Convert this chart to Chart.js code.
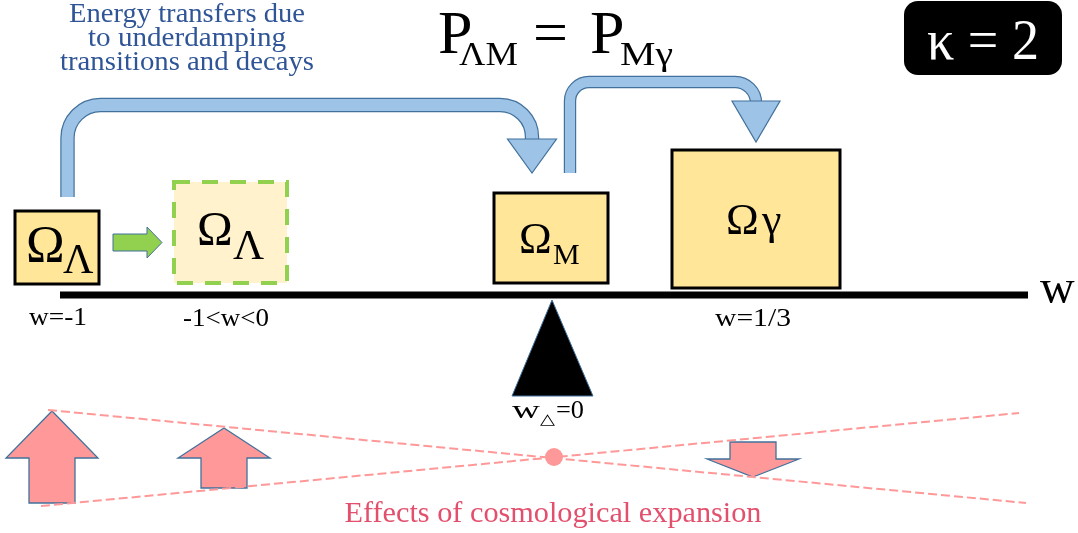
<!DOCTYPE html>
<html>
<head>
<meta charset="utf-8">
<script src="https://cdn.jsdelivr.net/npm/chart.js@4"></script>
<style>
  html, body { margin: 0; padding: 0; background: #fff; }
  canvas { display: block; }
</style>
</head>
<body>
<canvas id="diagram" width="1078" height="533"></canvas>
<script>
// ---- values (diagram units = reference pixels) ----
const axisX = [60, 1028];
const axisY = [295, 295];

// dashed guides of the expansion "seesaw"
const guideAX = [48, 1026];
const guideAY = [410, 503];
const guideBX = [41, 1019];
const guideBY = [506, 413];
const pivotX = [554];
const pivotY = [457];

// pink expansion arrows (tip, head base, tail)
const expTipX = [52, 224, 753];
const expTipY = [411, 428, 477];
const expHeadY = [458, 458, 459];
const expTailY = [503, 488, 442];

// energy components
const boxLeft = [15, 174, 494, 672];
const boxRight = [99, 287, 608, 840];
const boxTop = [211, 182, 193, 150];
const boxBottom = [284, 283, 283, 288];
const boxSymbol = ['Ω', 'Ω', 'Ω', 'Ω'];
const boxSub = ['Λ', 'Λ', 'M', 'γ'];
const symbolX = [26, 197, 519, 726];
const symbolBase = [262, 245, 253, 234];
const subX = [63, 233, 553, 762];
const subBase = [273, 259, 264, 234];

// equation-of-state labels under the axis
const wLabels = ['w=-1', '-1<w<0', 'w=1/3'];
const wLabelX = [58, 226, 753];
const wLabelBase = [325, 326, 326];

// energy-transfer arrows (centre line) and their heads
const transferX = [[67.5, 67.5, 532, 532], [570, 570, 756, 756]];
const transferY = [[197, 105, 105, 140], [173, 82, 82, 102]];
const transferHeadY = [139, 101];
const transferTipY = [173, 142];

const noteLines = ['Energy transfers due', 'to underdamping', 'transitions and decays'];
const noteBase = [22, 46, 70];

const formulaParts = ['P', 'ΛM', '=', 'P', 'Mγ'];
const formulaX = [438, 459, 533, 590, 620];
const formulaBase = [53, 65, 53, 53, 65];

const SERIF = '"Liberation Serif", "DejaVu Serif", serif';

function pts(xs, ys) { return xs.map((v, i) => ({ x: v, y: ys[i] })); }

function text(ctx, s, x, y, size, color, align, fitW, family) {
    ctx.save();
    ctx.font = size + 'px ' + (family || SERIF);
    ctx.fillStyle = color;
    ctx.textBaseline = 'alphabetic';
    ctx.textAlign = align || 'left';
    const sx = fitW ? fitW / ctx.measureText(s).width : 1;
    ctx.translate(x, y);
    ctx.scale(sx, 1);
    ctx.fillText(s, 0, 0);
    ctx.restore();
}

function polygon(ctx, list, fill, stroke, lw) {
    ctx.beginPath();
    list.forEach((p, i) => i ? ctx.lineTo(p[0], p[1]) : ctx.moveTo(p[0], p[1]));
    ctx.closePath();
    ctx.fillStyle = fill;
    ctx.fill();
    if (stroke) { ctx.lineWidth = lw || 1.2; ctx.strokeStyle = stroke; ctx.stroke(); }
}

const diagramPlugin = {
    id: 'diagramShapes',
    beforeDatasetsDraw(chart) {
        const { ctx, scales: { x, y } } = chart;
        const X = v => x.getPixelForValue(v), Y = v => y.getPixelForValue(v);
        // pink arrows sit under the dashed guides
        expTipX.forEach((tx, i) => {
            const head = 46, shaft = 23;
            polygon(ctx, [
                [X(tx), Y(expTipY[i])],
                [X(tx + head), Y(expHeadY[i])],
                [X(tx + shaft), Y(expHeadY[i])],
                [X(tx + shaft), Y(expTailY[i])],
                [X(tx - shaft), Y(expTailY[i])],
                [X(tx - shaft), Y(expHeadY[i])],
                [X(tx - head), Y(expHeadY[i])]
            ], '#ff9999', '#41719c', 1.3);
        });
    },
    afterDatasetsDraw(chart) {
        const { ctx, scales: { x, y } } = chart;
        const X = v => x.getPixelForValue(v), Y = v => y.getPixelForValue(v);
        ctx.save();

        // component boxes
        boxLeft.forEach((l, i) => {
            const bx = X(l), by = Y(boxTop[i]);
            const bw = X(boxRight[i]) - bx, bh = Y(boxBottom[i]) - by;
            if (i === 1) {
                ctx.fillStyle = '#fff2cc';
                ctx.fillRect(bx, by, bw, bh);
                ctx.setLineDash([16, 12]);
                ctx.lineWidth = 4;
                ctx.strokeStyle = '#92d050';
                ctx.strokeRect(bx, by, bw, bh);
                ctx.setLineDash([]);
            } else {
                ctx.fillStyle = '#ffe699';
                ctx.fillRect(bx, by, bw, bh);
                ctx.lineWidth = 3;
                ctx.strokeStyle = '#000';
                ctx.strokeRect(bx, by, bw, bh);
            }
        });
        const symSize = [52, 48, 44, 44];
        const subSize = [42, 43, 30, 44];
        boxSymbol.forEach((s, i) => {
            text(ctx, s, X(symbolX[i]), Y(symbolBase[i]), symSize[i], '#000');
            text(ctx, boxSub[i], X(subX[i]), Y(subBase[i]), subSize[i], '#000');
        });

        // green shift arrow
        polygon(ctx, [
            [X(113), Y(234)], [X(147), Y(234)], [X(147), Y(227)], [X(162), Y(242.5)],
            [X(147), Y(258)], [X(147), Y(251)], [X(113), Y(251)]
        ], '#92d050', '#41719c', 1);

        // blue transfer arrows
        const widths = [12, 10], radii = [[33, 32], [19, 21]], halfHead = [24.5, 24];
        transferX.forEach((xs, i) => {
            const ys = transferY[i];
            const path = () => {
                ctx.beginPath();
                ctx.moveTo(X(xs[0]), Y(ys[0]));
                ctx.arcTo(X(xs[1]), Y(ys[1]), X(xs[2]), Y(ys[2]), radii[i][0]);
                ctx.arcTo(X(xs[2]), Y(ys[2]), X(xs[3]), Y(ys[3]), radii[i][1]);
                ctx.lineTo(X(xs[3]), Y(ys[3]));
            };
            ctx.lineCap = 'butt';
            ctx.lineWidth = widths[i] + 2.4;
            ctx.strokeStyle = '#41719c';
            path(); ctx.stroke();
            ctx.lineWidth = widths[i];
            ctx.strokeStyle = '#9dc3e6';
            path(); ctx.stroke();
            const hx = xs[3];
            polygon(ctx, [
                [X(hx - halfHead[i]), Y(transferHeadY[i])],
                [X(hx + halfHead[i]), Y(transferHeadY[i])],
                [X(hx), Y(transferTipY[i])]
            ], '#9dc3e6', '#41719c', 1.2);
        });

        // fulcrum
        polygon(ctx, [[X(552), Y(300)], [X(593), Y(396)], [X(512), Y(396)]], '#000', '#41719c', 1);

        // labels
        const wWidth = [58, 86, 76];
        wLabels.forEach((s, i) => text(ctx, s, X(wLabelX[i]), Y(wLabelBase[i]), 26, '#000', 'center', wWidth[i]));
        text(ctx, 'w', X(512), Y(418), 25, '#000', 'left', 28);
        text(ctx, '△', X(540), Y(424), 15, '#000', 'left', 15, '"DejaVu Sans", sans-serif');
        text(ctx, '=0', X(556), Y(418), 25, '#000', 'left', 28);
        text(ctx, 'w', X(1040), Y(303), 48, '#000');

        // note and formula
        const noteWidth = [236, 198, 254];
        noteLines.forEach((s, i) => text(ctx, s, X(187), Y(noteBase[i]), 28, '#2f5597', 'center', noteWidth[i]));
        const fSize = [62, 33, 62, 62, 33];
        const fWidth = [null, 59, null, null, 53];
        formulaParts.forEach((s, i) => text(ctx, s, X(formulaX[i]), Y(formulaBase[i]), fSize[i], '#000', 'left', fWidth[i]));

        // kappa badge
        ctx.beginPath();
        ctx.roundRect(X(904), Y(1), X(1062) - X(904), Y(75) - Y(1), 14);
        ctx.fillStyle = '#000';
        ctx.fill();
        text(ctx, 'κ = 2', X(983), Y(59), 56, '#fff', 'center', 112);

        text(ctx, 'Effects of cosmological expansion', X(553), Y(522), 30, '#e2506d', 'center', 417);
        ctx.restore();
    }
};

new Chart(document.getElementById('diagram').getContext('2d'), {
    type: 'scatter',
    data: {
        datasets: [
            { data: pts(pivotX, pivotY), pointRadius: 9, pointBackgroundColor: '#ff9999', pointBorderWidth: 0, showLine: false },
            { data: pts(guideAX, guideAY), showLine: true, borderColor: '#ff9999', borderWidth: 2, borderDash: [9, 4], pointRadius: 0 },
            { data: pts(guideBX, guideBY), showLine: true, borderColor: '#ff9999', borderWidth: 2, borderDash: [9, 4], pointRadius: 0 },
            { data: pts(axisX, axisY), showLine: true, borderColor: '#000', borderWidth: 7, borderCapStyle: 'butt', pointRadius: 0 }
        ]
    },
    options: {
        responsive: false,
        devicePixelRatio: 1,
        animation: false,
        layout: { padding: 0, autoPadding: false },
        plugins: { legend: { display: false }, tooltip: { enabled: false } },
        scales: {
            x: { type: 'linear', min: 0, max: 1078, display: false },
            y: { type: 'linear', min: 0, max: 533, reverse: true, display: false }
        }
    },
    plugins: [diagramPlugin]
});
</script>
</body>
</html>
